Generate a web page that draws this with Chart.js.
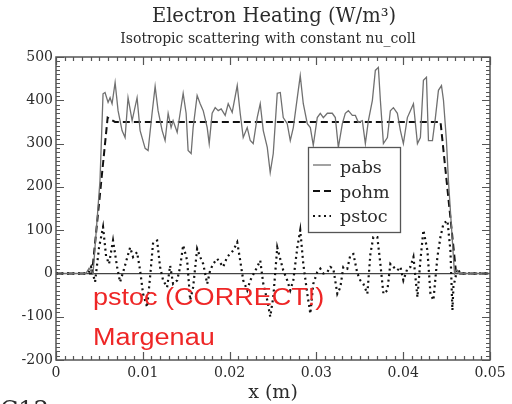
<!DOCTYPE html>
<html>
<head>
<meta charset="utf-8">
<script src="https://cdn.jsdelivr.net/npm/chart.js@4.4.0/dist/chart.umd.min.js"></script>
<style>
  html, body { margin: 0; padding: 0; background: #fff; }
</style>
</head>
<body>
<canvas id="heatChart" width="512" height="404"></canvas>
<script>
// x positions in mm, heating in W/m^3
const pabsX = [0, 3.46, 3.81, 4.04, 4.27, 5.07, 5.42, 5.65, 6.00, 6.23, 6.46, 6.81, 7.15, 7.61, 7.96, 8.30, 8.77, 9.34, 9.69, 10.27,
  10.61, 11.07, 11.42, 11.76, 12.23, 12.57, 12.92, 13.26, 13.49, 13.96, 14.30, 14.65, 14.99, 15.22, 15.57, 15.80, 16.26, 16.61, 16.96, 17.42,
  17.65, 17.99, 18.34, 18.69, 19.03, 19.49, 19.84, 20.30, 20.88, 21.22, 21.57, 22.03, 22.38, 22.72, 23.18, 23.53, 23.88, 24.34, 24.68, 25.03,
  25.49, 25.84, 26.18, 26.64, 26.99, 27.34, 27.80, 28.14, 28.49, 28.95, 29.30, 29.64, 30.10, 30.45, 30.80, 31.26, 31.83, 32.18, 32.53, 32.99,
  33.33, 33.68, 34.14, 34.49, 34.83, 35.29, 35.64, 35.99, 36.45, 36.79, 37.14, 37.37, 37.72, 38.18, 38.52, 38.87, 39.33, 39.68, 40.02, 40.48,
  40.83, 41.18, 41.64, 41.98, 42.33, 42.68, 42.91, 43.37, 43.71, 44.06, 44.41, 44.64, 44.98, 45.21, 45.91, 46.14, 46.37, 50];
const pabsY = [0, 0, 12, 5, 0, 215, 415, 418, 395, 406, 392, 441, 376, 330, 314, 406, 353, 406, 330, 289,
  284, 370, 432, 376, 330, 307, 370, 337, 353, 326, 370, 416, 370, 284, 277, 337, 411, 392, 376, 337,
  300, 370, 383, 376, 380, 365, 392, 372, 434, 370, 314, 337, 307, 300, 360, 392, 330, 291, 233, 277,
  416, 418, 360, 346, 307, 337, 406, 457, 392, 346, 337, 296, 360, 370, 360, 370, 370, 360, 291, 346,
  370, 376, 365, 365, 349, 353, 300, 353, 400, 469, 476, 400, 300, 314, 376, 383, 370, 330, 300, 360,
  376, 392, 300, 314, 446, 453, 307, 307, 360, 423, 434, 400, 307, 215, 0, 10, 0, 0];

const pohmX = [0, 4.15, 5.95, 6.8, 44.3, 46.1, 50];
const pohmY = [0, 0, 360, 350, 350, 0, 0];

const pstocX = [0, 3.69, 4.04, 4.50, 4.96, 5.42, 5.77, 6.11, 6.57, 7.04, 7.38, 7.73, 8.54, 8.88, 9.34, 9.69, 10.03, 10.50, 10.84, 11.19,
  11.65, 11.99, 12.34, 12.80, 13.15, 13.49, 13.96, 14.30, 14.65, 15.11, 15.46, 15.80, 16.26, 16.61, 16.96, 17.42, 17.76, 18.11, 18.57, 19.26,
  19.72, 20.42, 20.88, 21.22, 21.57, 22.03, 22.38, 23.18, 23.53, 23.88, 24.34, 24.68, 25.03, 25.49, 25.84, 26.18, 26.64, 26.99, 27.34, 27.80,
  28.14, 28.49, 28.95, 29.30, 29.64, 30.10, 30.45, 30.80, 31.26, 31.60, 31.95, 32.41, 32.76, 33.10, 33.56, 33.91, 34.26, 34.72, 35.06, 35.41,
  35.87, 36.22, 36.56, 37.02, 37.37, 37.72, 38.18, 38.52, 38.87, 39.33, 39.68, 40.02, 40.48, 40.83, 41.18, 41.64, 41.98, 42.33, 42.79, 43.14,
  43.48, 43.94, 44.29, 44.64, 45.10, 45.44, 45.67, 45.79, 46.25, 46.60, 50];
const pstocY = [0, 0, 15, -20, 60, 107, 40, 22, 76, 15, -20, 3, 60, 38, 49, 7, -47, -78, -8, 72,
  76, 15, -16, -32, 18, -24, -16, 15, 65, 30, -62, -32, 57, 38, 22, -24, 7, 22, 34, 15,
  38, 53, 72, 30, -16, -39, -16, 15, 30, -24, -62, -100, -55, 60, 33, 7, -16, -39, -16, 60,
  100, 22, -47, -93, -24, 3, 11, 0, 3, 15, 11, -47, -32, 15, 11, 42, 45, 0, -16, -24,
  -47, 45, 84, 84, 22, -47, -39, 22, 15, 7, 15, -16, 11, 15, 38, -55, 30, 100, 53, -47,
  -62, 38, 84, 115, 122, 53, -85, -30, 11, 0, 0];

const xTicks = [0, 0.01, 0.02, 0.03, 0.04, 0.05];
const xTickLabels = ["0", "0.01", "0.02", "0.03", "0.04", "0.05"];
const yTicks = [-200, -100, 0, 100, 200, 300, 400, 500];

const serif = "'DejaVu Serif', serif";
const ink = "#2b2b2b";

function toPoints(xs, ys) {
    return xs.map((x, i) => ({ x: x / 1000, y: ys[i] }));
}

// inward ticks on all four sides + frame
const frameTicks = {
    id: "frameTicks",
    afterDatasetsDraw(chart) {
        const { ctx, chartArea: a, scales } = chart;
        const sx = scales.x, sy = scales.y;
        ctx.save();
        ctx.strokeStyle = "#555";
        ctx.lineWidth = 1.2;
        ctx.beginPath();
        for (let i = 0; i <= 50; i++) {
            const px = Math.round(sx.getPixelForValue(i / 1000)) + 0.5;
            const len = i % 10 === 0 ? 8 : 4;
            ctx.moveTo(px, a.bottom); ctx.lineTo(px, a.bottom - len);
            ctx.moveTo(px, a.top); ctx.lineTo(px, a.top + len);
        }
        for (let v = -200; v <= 500; v += 10) {
            const py = Math.round(sy.getPixelForValue(v)) + 0.5;
            const len = v % 100 === 0 ? 8 : 4;
            ctx.moveTo(a.left, py); ctx.lineTo(a.left + len, py);
            ctx.moveTo(a.right, py); ctx.lineTo(a.right - len, py);
        }
        ctx.stroke();
        ctx.lineWidth = 1.5;
        ctx.strokeRect(a.left, a.top, a.width, a.height);
        ctx.restore();
    }
};

// titles centred over the plot, boxed legend inside it, red notes
const notes = {
    id: "notes",
    afterDraw(chart) {
        const ctx = chart.ctx;
        const a = chart.chartArea;
        const sets = chart.data.datasets;
        const mid = (a.left + a.right) / 2;
        ctx.save();

        ctx.fillStyle = ink;
        ctx.textAlign = "center";
        ctx.textBaseline = "middle";
        ctx.font = "19.5px " + serif;
        ctx.fillText("Electron Heating (W/m³)", mid + 1, 17);
        ctx.font = "14px " + serif;
        ctx.fillText("Isotropic scattering with constant nu_coll", mid - 5, 39);
        ctx.textAlign = "left";

        ctx.fillStyle = "#fff";
        ctx.fillRect(308, 147, 92, 85);
        ctx.strokeStyle = "#555";
        ctx.lineWidth = 1.3;
        ctx.strokeRect(308.5, 147.5, 92, 85);

        const rows = [165, 191, 216];
        const bases = [173, 198, 222];
        sets.forEach((ds, i) => {
            ctx.beginPath();
            ctx.strokeStyle = ds.borderColor;
            ctx.lineWidth = ds.borderWidth;
            ctx.setLineDash(ds.borderDash || []);
            ctx.moveTo(313, rows[i]);
            ctx.lineTo(331, rows[i]);
            ctx.stroke();
            ctx.setLineDash([]);
            ctx.fillStyle = ink;
            ctx.font = "17.5px " + serif;
            ctx.textBaseline = "alphabetic";
            ctx.fillText(ds.label, 340, bases[i]);
        });

        ctx.fillStyle = "#ee2626";
        ctx.font = "23.5px 'Liberation Sans', Arial, sans-serif";
        ctx.textBaseline = "alphabetic";
        [["pstoc (CORRECT!)", 305], ["Margenau", 345]].forEach(([t, yb]) => {
            ctx.save();
            ctx.translate(93, yb);
            ctx.scale(1.15, 1);
            ctx.fillText(t, 0, 0);
            ctx.restore();
        });

        ctx.fillStyle = ink;
        ctx.font = "24px " + serif;
        ctx.fillText("C12", 0, 418);
        ctx.restore();
    }
};

new Chart(document.getElementById("heatChart"), {
    type: "line",
    data: {
        datasets: [
            {
                label: "pabs",
                data: toPoints(pabsX, pabsY),
                borderColor: "#707070",
                borderWidth: 1.3,
                pointRadius: 0,
                tension: 0
            },
            {
                label: "pohm",
                data: toPoints(pohmX, pohmY),
                borderColor: "#111",
                borderWidth: 2,
                borderDash: [7, 4],
                pointRadius: 0,
                tension: 0
            },
            {
                label: "pstoc",
                data: toPoints(pstocX, pstocY),
                borderColor: "#111",
                borderWidth: 2.2,
                borderDash: [2, 3.5],
                pointRadius: 0,
                tension: 0
            }
        ]
    },
    options: {
        responsive: false,
        animation: false,
        events: [],
        layout: { padding: { left: 0, right: 22, top: 57, bottom: 0 } },
        plugins: {
            legend: { display: false },
            tooltip: { enabled: false }
        },
        scales: {
            x: {
                type: "linear",
                min: 0,
                max: 0.05,
                afterBuildTicks: s => { s.ticks = xTicks.map(v => ({ value: v })); },
                afterFit: s => { s.height = 44; },
                grid: { display: false, drawTicks: false },
                border: { display: false },
                ticks: {
                    color: ink,
                    padding: 5,
                    maxRotation: 0,
                    font: { family: serif, size: 14 },
                    callback: (v, i) => xTickLabels[i]
                },
                title: {
                    display: true,
                    text: "x (m)",
                    color: ink,
                    font: { family: serif, size: 19 },
                    padding: { top: 0, bottom: 0 }
                }
            },
            y: {
                min: -200,
                max: 500,
                afterBuildTicks: s => { s.ticks = yTicks.map(v => ({ value: v })); },
                afterFit: s => { s.width = 56; },
                grid: {
                    drawTicks: false,
                    lineWidth: 1.2,
                    color: c => (c.tick && c.tick.value === 0 ? "#444" : "rgba(0,0,0,0)")
                },
                border: { display: false },
                ticks: {
                    color: ink,
                    padding: 3,
                    font: { family: serif, size: 14 }
                }
            }
        }
    },
    plugins: [frameTicks, notes]
});
</script>
</body>
</html>
